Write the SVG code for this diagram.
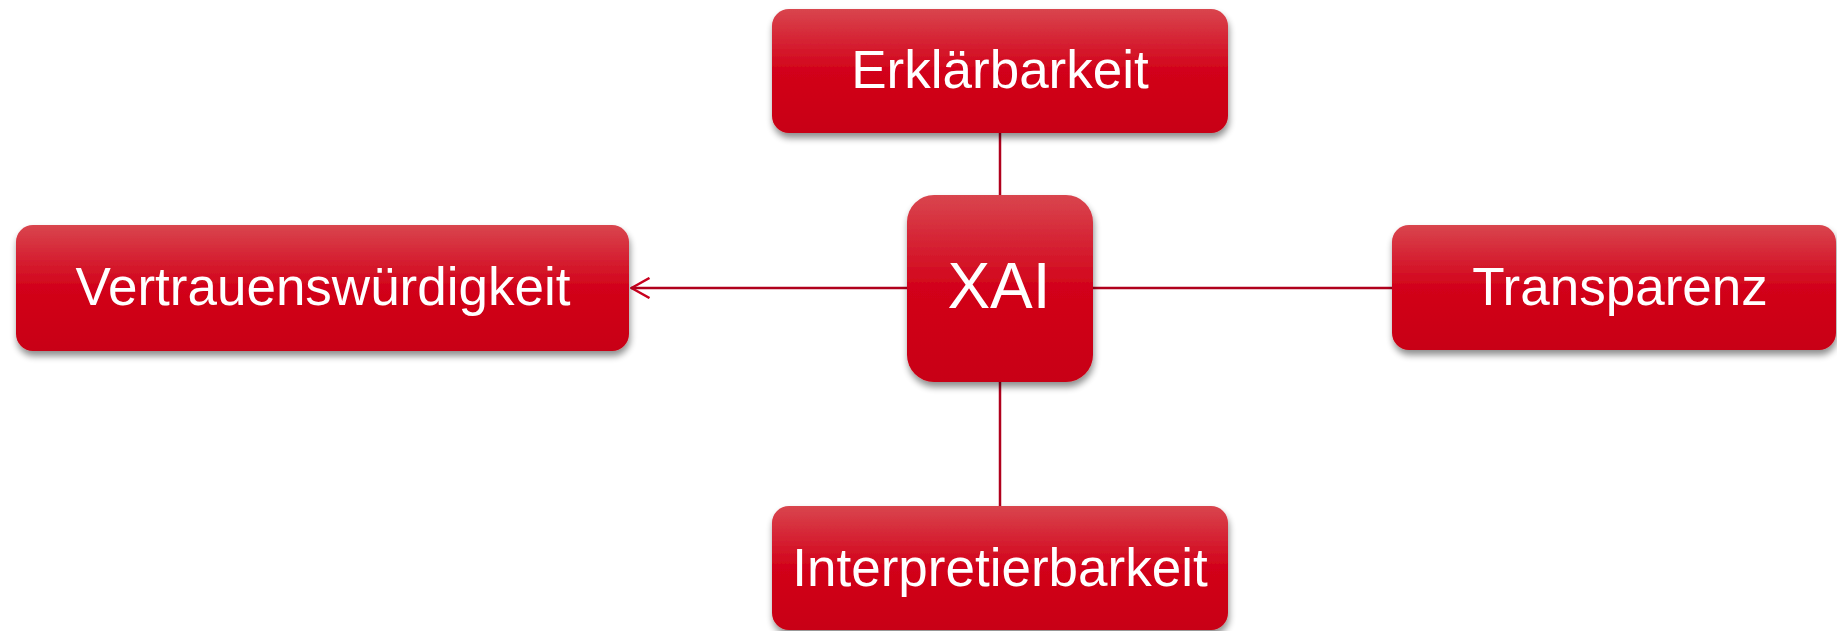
<svg xmlns="http://www.w3.org/2000/svg" width="1837" height="631" viewBox="0 0 1837 631">
<defs>
<linearGradient id="g" x1="0" y1="0" x2="0" y2="1">
<stop offset="0" stop-color="#d9454e"/>
<stop offset="0.5" stop-color="#d2021a"/>
<stop offset="1" stop-color="#c80012"/>
</linearGradient>
<filter id="sh" x="-10%" y="-10%" width="120%" height="140%">
<feGaussianBlur in="SourceAlpha" stdDeviation="3.5"/>
<feOffset dx="1" dy="5" result="b"/>
<feComponentTransfer><feFuncA type="linear" slope="0.45"/></feComponentTransfer>
<feMerge><feMergeNode/><feMergeNode in="SourceGraphic"/></feMerge>
</filter>
<marker id="arr" viewBox="0 0 21 22" refX="19.5" refY="11" markerWidth="21" markerHeight="22" markerUnits="userSpaceOnUse" orient="auto">
<path d="M1 1 L19 11 L1 21" fill="none" stroke="#c8001e" stroke-width="2.5"/>
</marker>
</defs>
<style>
.box{fill:url(#g);filter:url(#sh)}
.lbl{font-family:"Liberation Sans",Arial,sans-serif;font-size:53px;fill:#ffffff;text-anchor:middle}
.c{stroke:#b0001c;stroke-width:2.5;fill:none}
</style>
<rect width="1837" height="631" fill="#ffffff"/>
<g id="connectors">
<line class="c" x1="1000" y1="133" x2="1000" y2="195"/>
<line class="c" x1="1000" y1="382" x2="1000" y2="506"/>
<line class="c" x1="1093" y1="288" x2="1392" y2="288"/>
<line class="c" x1="907" y1="288" x2="631" y2="288" stroke="#c8001e" marker-end="url(#arr)"/>
</g>
<g id="erklaerbarkeit">
<rect class="box" x="772" y="9" width="456" height="124" rx="17"/>
<text class="lbl" x="1000" y="88">Erklärbarkeit</text>
</g>
<g id="xai">
<rect class="box" x="907" y="195" width="186" height="187" rx="27"/>
<text class="lbl" x="999" y="308" style="font-size:64px">XAI</text>
</g>
<g id="vertrauenswuerdigkeit">
<rect class="box" x="16" y="225" width="613" height="126" rx="17"/>
<text class="lbl" x="323" y="305">Vertrauenswürdigkeit</text>
</g>
<g id="transparenz">
<rect class="box" x="1392" y="225" width="444" height="125" rx="17"/>
<text class="lbl" x="1620" y="305">Transparenz</text>
</g>
<g id="interpretierbarkeit">
<rect class="box" x="772" y="506" width="456" height="124" rx="17"/>
<text class="lbl" x="1000" y="586">Interpretierbarkeit</text>
</g>
</svg>
